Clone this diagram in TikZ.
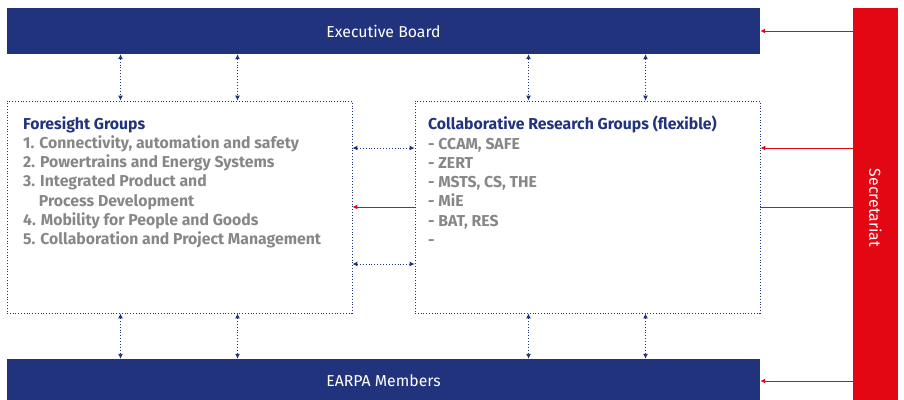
\documentclass[tikz,border=0pt]{standalone}
\usepackage{fontspec}
\setmainfont{Fira Sans}
\usetikzlibrary{arrows.meta,positioning,calc}
\definecolor{epnavy}{RGB}{33,51,125}
\definecolor{epred}{RGB}{227,6,19}
\definecolor{epgrey}{RGB}{135,135,135}

\begin{document}
\begin{tikzpicture}[x=1pt,y=-1pt,every node/.style={font=\fontsize{15.8}{19.3}\selectfont},
      bar/.style={fill=epnavy,text=white,minimum width=753pt,inner sep=0pt},
      grp/.style={draw=epnavy,dotted,line width=0.8pt,inner sep=0pt,
                  minimum width=345pt,minimum height=212pt},
      txt/.style={anchor=north west,align=left,inner sep=0pt,text=epgrey,
                  font=\fontsize{15.8}{19.3}\selectfont\bfseries},
      link/.style={epnavy,dotted,line width=0.9pt,
                   {Latex[length=5pt,width=5pt]}-{Latex[length=5pt,width=5pt]}},
      sec/.style={epred,line width=1pt,-{Latex[length=5pt,width=5pt]}}]
    \useasboundingbox (0,0) rectangle (904,399);
    \node[bar,minimum height=46pt] (exec) at (383.5,31)  {Executive Board};
    \node[bar,minimum height=44pt] (mem)  at (383.5,381) {EARPA Members};
    \node[fill=epred,inner sep=0pt,minimum width=45pt,minimum height=400pt] (secr) at (875.5,208) {};
    \node[text=white,rotate=-90] (sectxt) at (secr) {Secretariat};
    \node[grp] (fg)  at (179.5,207) {};
    \node[grp] (crg) at (587.5,207) {};
    \node[txt] (fgtxt) at (23,116) {{\color{epnavy}Foresight Groups}\\
      1. Connectivity, automation and safety\\
      2. Powertrains and Energy Systems\\
      3. Integrated Product and\\
      \hphantom{3.\ }Process Development\\
      4. Mobility for People and Goods\\
      5. Collaboration and Project Management};
    \node[txt] (crgtxt) at (428,116) {{\color{epnavy}Collaborative Research Groups (flexible)}\\
      - CCAM, SAFE\\
      - ZERT\\
      - MSTS, CS, THE\\
      - MiE\\
      - BAT, RES\\
      -};
    % links to board and members
    \foreach \g in {fg,crg}
      \foreach \dx [count=\i] in {-59,58} {
        \coordinate (\g u\i) at ([xshift=\dx pt]\g.north);
        \coordinate (\g d\i) at ([xshift=\dx pt]\g.south);
        \draw[link] (\g u\i |- exec.south) -- (\g u\i);
        \draw[link] (\g d\i) -- (\g d\i |- mem.north);
      }
    % between the groups
    \coordinate (h1) at ([yshift=59pt]fg.east);
    \coordinate (h2) at ([yshift=-57pt]fg.east);
    \draw[link] (h1) -- (h1 -| crg.west);
    \draw[link] (h2) -- (h2 -| crg.west);
    \draw[sec] (crg.west) -- (fg.east);
    % secretariat
    \coordinate (h3) at ([yshift=59pt]crg.east);
    \draw[sec] (exec.east -| secr.west) -- (exec.east);
    \draw[sec] (h3 -| secr.west) -- (h3);
    \draw[epred,line width=1pt] (secr.west |- crg.east) -- (crg.east);
    \draw[sec] (mem.east -| secr.west) -- (mem.east);
  \end{tikzpicture}
\end{document}
